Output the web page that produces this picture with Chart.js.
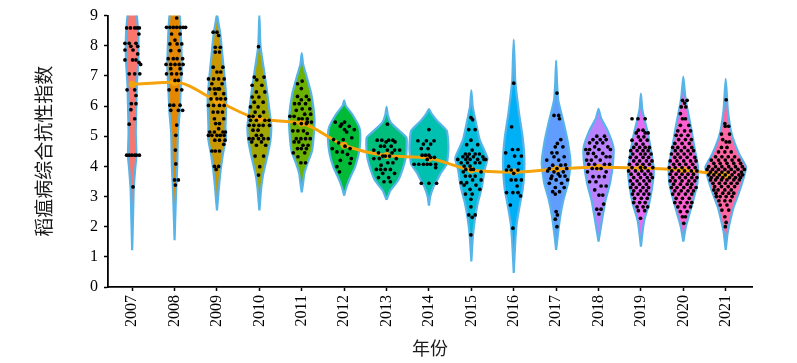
<!DOCTYPE html>
<html>
<head>
<meta charset="utf-8">
<script src="https://cdn.jsdelivr.net/npm/chart.js@4.4.1/dist/chart.umd.min.js"></script>
<style>
  html, body { margin: 0; padding: 0; background: #fff; }
  #wrap { width: 797px; height: 363px; position: relative; }
</style>
</head>
<body>
<div id="wrap"><canvas id="violinChart"></canvas></div>
<script>
        const years = [2007, 2008, 2009, 2010, 2011, 2012, 2013, 2014, 2015, 2016, 2017, 2018, 2019, 2020, 2021];

        // trend line (orange)
        const trendValues = [6.72, 6.79, 6.17, 5.57, 5.43, 4.70, 4.36, 4.27, 3.88, 3.81, 3.91, 3.97, 3.94, 3.88, 3.71];

        const fillColors = ['#F8766D', '#E58700', '#C99800', '#A3A500', '#6BB100', '#00BA38', '#00BF7D', '#00C0AF',
                            '#00BCD8', '#00B0F6', '#619CFF', '#B983FF', '#E76BF3', '#FD61D1', '#FF67A4'];

        // violin outline per year: [index value, half width in years], bottom tip -> top tip
        const violinShapes = [
            [[1.22,0],[2.3,0.02],[3.2,0.035],[3.9,0.07],[4.35,0.1],[5.1,0.085],[5.8,0.095],[6.7,0.11],[7.5,0.145],[8.4,0.145],[9.0,0.11],[9.4,0.08],[9.7,0]],
            [[1.55,0],[2.6,0.023],[3.3,0.04],[4.0,0.063],[5.1,0.08],[5.8,0.12],[6.4,0.14],[7.3,0.17],[8.5,0.145],[9.0,0.12],[9.4,0.08],[9.7,0]],
            [[2.54,0],[2.87,0.02],[3.3,0.045],[3.86,0.085],[4.4,0.14],[4.95,0.21],[5.3,0.2],[6.17,0.22],[6.8,0.19],[7.8,0.12],[8.37,0.08],[8.8,0.03],[9.05,0]],
            [[2.54,0],[2.87,0.02],[3.3,0.045],[3.76,0.093],[4.29,0.18],[4.85,0.26],[5.34,0.28],[5.94,0.23],[6.6,0.17],[7.27,0.1],[8.0,0.025],[9.05,0]],
            [[3.14,0],[3.43,0.03],[3.76,0.06],[4.08,0.13],[4.5,0.24],[5.07,0.285],[5.6,0.3],[6.4,0.225],[7.05,0.1],[7.4,0.03],[7.76,0]],
            [[3.03,0],[3.3,0.05],[3.63,0.14],[3.96,0.25],[4.4,0.34],[4.85,0.38],[5.28,0.36],[5.73,0.19],[6.0,0.04],[6.19,0]],
            [[2.89,0],[3.2,0.09],[3.53,0.27],[3.96,0.39],[4.4,0.465],[4.95,0.47],[5.18,0.3],[5.45,0.1],[5.7,0.03],[5.97,0]],
            [[2.7,0],[3.0,0.03],[3.3,0.1],[3.53,0.19],[3.76,0.27],[4.08,0.42],[4.62,0.46],[5.18,0.42],[5.5,0.2],[5.75,0.06],[5.9,0]],
            [[0.85,0],[1.66,0.035],[2.22,0.08],[2.78,0.15],[3.32,0.25],[3.88,0.31],[4.27,0.38],[4.87,0.2],[5.64,0.08],[6.0,0.03],[6.52,0]],
            [[0.47,0],[1.46,0.035],[2.1,0.07],[2.66,0.135],[3.22,0.21],[3.77,0.245],[4.3,0.25],[4.97,0.21],[5.76,0.125],[6.85,0.035],[7.5,0.02],[8.2,0]],
            [[1.23,0],[1.79,0.045],[2.33,0.095],[2.88,0.17],[3.44,0.28],[4.1,0.34],[4.77,0.28],[5.43,0.18],[6.19,0.05],[6.8,0.02],[7.51,0]],
            [[1.51,0],[1.9,0.045],[2.33,0.095],[2.88,0.165],[3.44,0.27],[4.1,0.34],[4.64,0.35],[5.2,0.21],[5.6,0.06],[5.91,0]],
            [[1.34,0],[1.79,0.035],[2.22,0.08],[2.78,0.195],[3.32,0.265],[3.88,0.305],[4.43,0.25],[5.09,0.165],[5.64,0.07],[5.9,0.03],[6.41,0]],
            [[1.51,0],[2.0,0.06],[2.33,0.125],[2.88,0.235],[3.44,0.33],[3.98,0.345],[4.64,0.26],[5.3,0.18],[6.09,0.07],[6.4,0.04],[6.98,0]],
            [[1.23,0],[1.79,0.045],[2.22,0.11],[2.66,0.19],[3.1,0.305],[3.65,0.43],[3.98,0.48],[4.43,0.31],[5.1,0.135],[5.86,0.05],[6.3,0.03],[6.9,0]]
        ];

        // individual samples per year: [jitter in years, index value]
        const samplePoints = [
            [[-0.13,8.59],[-0.04,8.59],[0.06,8.59],[0.12,8.59],[0.17,8.59],[0.16,8.39],[-0.17,8.08],[-0.07,8.08],[0.09,8.08],[-0.03,7.98],[0.13,7.98],
             [-0.17,7.86],[0.02,7.86],[0.13,7.73],[-0.17,7.53],[0.01,7.53],[0.09,7.53],[0.16,7.45],[0.2,7.38],[-0.07,7.07],[0.06,7.07],[0.18,7.07],
             [-0.12,6.54],[0.06,6.54],[0.09,6.35],[-0.02,6.08],[0.09,6.08],[-0.03,5.88],[0.06,5.58],[-0.07,5.40],
             [-0.13,4.37],[-0.07,4.37],[-0.01,4.37],[0.06,4.37],[0.10,4.37],[0.17,4.37],[0.02,3.32]],
            [[0.05,8.92],[-0.19,8.61],[-0.11,8.61],[-0.03,8.61],[0.05,8.61],[0.13,8.61],[0.2,8.61],[0.26,8.61],[-0.07,8.39],[0.13,8.39],[0.01,8.19],
             [-0.11,8.06],[0.06,8.06],[0.17,8.06],[-0.09,7.84],[0.11,7.84],[-0.15,7.57],[-0.03,7.57],[0.06,7.57],[0.19,7.57],
             [-0.2,7.38],[-0.09,7.38],[0.01,7.38],[0.11,7.38],[0.2,7.38],[-0.09,7.24],[0.13,7.24],[-0.19,7.07],[-0.07,7.07],[0.05,7.07],[0.16,7.07],
             [0.01,6.85],[0.09,6.85],[-0.13,6.54],[0.05,6.54],[0.17,6.54],[-0.11,6.03],[-0.02,6.03],[0.13,6.03],[-0.09,5.86],[0.09,5.86],[0.19,5.86],
             [0.05,5.37],[0.03,5.03],[0.02,4.54],[0.03,4.08],[0.0,3.55],[0.09,3.55],[0.02,3.38]],
            [[-0.09,8.45],[0,8.45],[0.04,8.34],[-0.04,7.95],[0.08,7.95],[-0.04,7.79],[0.06,7.79],[-0.09,7.29],[0.14,7.29],[0,7.13],[0.09,7.13],
             [-0.2,6.9],[-0.08,6.9],[0.04,6.9],[0.17,6.9],[-0.12,6.74],[0.12,6.74],[-0.17,6.57],[-0.06,6.57],[0.02,6.57],[0.06,6.57],
             [-0.04,6.41],[0.16,6.41],[-0.14,6.24],[0,6.24],[0.09,6.24],[0.2,6.24],[-0.2,6.02],[-0.08,6.02],[0.06,6.02],[0.17,6.02],
             [-0.09,5.8],[0.02,5.8],[0.13,5.8],[-0.06,5.58],[0.16,5.58],[-0.03,5.42],[0.06,5.42],[0.04,5.25],
             [-0.17,5.14],[-0.06,5.14],[0.14,5.14],[0.2,5.14],[-0.2,5.03],[-0.12,5.03],[0,5.03],[0.08,5.03],[0.17,5.03],
             [-0.05,4.87],[0.06,4.87],[0.19,4.87],[0.16,4.73],[-0.12,4.51],[-0.04,4.51],[0.06,4.51],[-0.06,4.0],[0.04,4.0],[-0.02,3.9]],
            [[-0.02,7.97],[-0.12,6.96],[0.11,6.96],[-0.06,6.87],[-0.17,6.69],[0.06,6.69],[-0.07,6.47],[0.13,6.47],[-0.17,6.3],[-0.01,6.3],
             [-0.12,6.13],[0.09,6.13],[-0.21,5.97],[-0.03,5.97],[-0.1,5.8],[0.1,5.8],[-0.24,5.66],[-0.15,5.66],[0.01,5.66],
             [-0.21,5.53],[-0.07,5.53],[0.13,5.53],[0.23,5.53],[-0.24,5.36],[-0.13,5.36],[-0.01,5.36],[0.09,5.36],[0.24,5.36],
             [-0.15,5.2],[-0.03,5.2],[-0.07,5.03],[0.05,5.03],[-0.24,4.92],[-0.15,4.92],[-0.02,4.92],[0.1,4.92],[0.21,4.92],
             [-0.18,4.81],[0.05,4.81],[-0.07,4.7],[0.15,4.7],[-0.1,4.34],[0.1,4.34],[0.01,3.99],[-0.02,3.71]],
            [[0.01,6.83],[-0.1,6.74],[-0.01,6.58],[-0.1,6.32],[0.11,6.32],[-0.01,6.21],[0.17,6.21],[-0.17,6.08],[-0.06,6.08],[0.09,6.08],
             [0.01,5.91],[0.19,5.91],[-0.13,5.86],[0.07,5.73],[0.21,5.73],[-0.28,5.66],[-0.18,5.66],[-0.07,5.58],[0.01,5.58],[0.13,5.58],
             [0.13,5.47],[0.23,5.47],[-0.17,5.42],[-0.01,5.42],[0.11,5.42],[-0.21,5.18],[-0.09,5.18],[0.04,5.18],[0.13,5.09],
             [-0.13,4.92],[-0.02,4.92],[0.09,4.92],[0.2,4.92],[-0.18,4.81],[-0.07,4.81],[0.03,4.7],[0.15,4.7],
             [-0.1,4.59],[-0.01,4.59],[0.11,4.59],[-0.2,4.45],[0.07,4.45],[-0.09,4.32],[-0.02,4.12],[0.09,4.12]],
            [[-0.21,5.47],[0.01,5.47],[-0.06,5.4],[-0.09,5.33],[0.12,5.33],[0.01,5.22],[0.24,5.22],[0.06,5.14],[0.18,4.95],
             [-0.25,4.89],[-0.02,4.89],[-0.13,4.78],[0.02,4.67],[-0.28,4.59],[0.14,4.59],[-0.17,4.48],[-0.04,4.48],[0.08,4.4],
             [0.17,4.26],[-0.09,4.2],[0.14,4.1],[-0.17,3.99],[-0.11,3.82]],
            [[0.02,5.4],[-0.22,4.87],[-0.11,4.87],[0.05,4.87],[0.15,4.87],[-0.01,4.81],[0.2,4.81],[-0.14,4.67],[-0.05,4.67],[0.11,4.67],
             [-0.3,4.54],[0.02,4.54],[0.19,4.54],[0.31,4.54],[-0.19,4.45],[0.13,4.45],[-0.09,4.34],[-0.03,4.34],[0.07,4.34],
             [-0.3,4.26],[-0.17,4.26],[0.23,4.26],[0.03,4.12],[0.15,4.12],[-0.13,4.04],[-0.24,3.9],[-0.14,3.9],[-0.03,3.9],[0.09,3.9],
             [-0.09,3.77],[0.19,3.77],[-0.19,3.63],[0.05,3.63],[-0.06,3.49],[0.09,3.49]],
            [[0,5.22],[-0.26,4.85],[-0.06,4.85],[0.12,4.85],[-0.13,4.74],[0.04,4.74],[-0.18,4.59],[-0.02,4.59],[-0.16,4.37],[-0.08,4.37],[0,4.37],
             [0.04,4.3],[0.13,4.3],[-0.04,4.23],[-0.35,4.07],[-0.24,4.07],[-0.13,4.07],[-0.04,4.07],[0.04,4.07],[0.16,4.07],[0.16,3.96],
             [-0.18,3.44],[0,3.44],[0.18,3.44]],
            [[-0.01,5.62],[0.03,5.55],[-0.06,5.22],[0.09,5.22],[-0.01,4.87],[-0.11,4.72],[0.15,4.72],[0.02,4.54],[-0.14,4.41],[-0.05,4.41],[0.09,4.41],[0.19,4.41],
             [-0.2,4.32],[-0.09,4.32],[0.05,4.32],[0.27,4.32],[-0.32,4.23],[-0.13,4.23],[-0.03,4.23],[0.15,4.23],[0.3,4.23],[0.34,4.23],
             [-0.24,4.12],[-0.09,4.12],[0.09,4.12],[0.2,4.12],[-0.17,4.01],[-0.03,4.01],[-0.13,3.9],[-0.01,3.9],[0.05,3.9],[-0.19,3.82],[0.23,3.82],
             [-0.14,3.68],[-0.03,3.68],[0.09,3.68],[0.03,3.55],[0.23,3.55],[-0.24,3.46],[-0.11,3.46],[-0.17,3.38],[0.11,3.38],[-0.03,3.24],[0.2,3.24],
             [-0.14,3.08],[0.02,3.08],[-0.01,2.91],[-0.01,2.66],[-0.06,2.39],[0.09,2.39],[0.02,2.31],[-0.01,1.73]],
            [[0,6.76],[-0.05,5.31],[-0.03,4.56],[0.1,4.56],[-0.19,4.45],[0.02,4.34],[0.18,4.34],[0.12,4.1],[-0.12,4.0],
             [-0.17,3.88],[-0.06,3.88],[0.1,3.88],[0,3.77],[-0.06,3.55],[0.05,3.55],[0.18,3.55],[0.08,3.35],
             [-0.17,3.13],[-0.02,3.13],[0.1,3.13],[0.16,3.02],[-0.08,2.72],[-0.02,1.95]],
            [[0.02,6.43],[-0.05,5.69],[0.06,5.69],[0.08,5.58],[0.11,4.89],[0.03,4.76],[-0.02,4.65],[0.16,4.65],[-0.1,4.45],[0.02,4.45],
             [-0.05,4.32],[0.19,4.32],[-0.22,4.21],[0.06,4.21],[-0.08,4.04],[0.11,4.04],[0.22,4.05],[-0.16,3.93],[0.02,3.93],[0.25,3.93],
             [-0.2,3.85],[-0.05,3.82],[0.17,3.82],[0.05,3.75],[-0.1,3.68],[0.09,3.68],[0.21,3.68],[-0.12,3.6],[0,3.55],[0.27,3.55],
             [-0.16,3.44],[0.13,3.44],[-0.02,3.3],[0.19,3.3],[-0.08,3.16],[0.08,3.16],[-0.02,3.08],[0,2.5],[0.03,2.39],[-0.02,2.25],[0.02,2.0]],
            [[-0.04,5.0],[0.14,5.0],[-0.13,4.89],[0.04,4.89],[0.18,4.89],[-0.21,4.78],[-0.04,4.78],[0.1,4.78],[-0.09,4.65],[0.22,4.65],
             [-0.3,4.56],[-0.21,4.56],[0.01,4.56],[0.28,4.56],[-0.25,4.43],[-0.12,4.43],[0.1,4.43],[-0.06,4.32],[0.18,4.32],[0.27,4.32],
             [-0.28,4.21],[-0.17,4.21],[0.04,4.21],[-0.23,4.07],[-0.09,4.07],[0.14,4.07],[0.26,4.07],[-0.15,3.93],[-0.04,3.93],[0.06,3.93],
             [-0.26,3.82],[0.18,3.82],[-0.13,3.66],[0.01,3.66],[0.14,3.66],[-0.21,3.49],[-0.06,3.49],[0.06,3.35],[0.18,3.35],
             [-0.09,3.22],[0.01,3.05],[0.1,3.05],[0.12,2.75],[-0.04,2.58],[0.06,2.58],[0.01,2.42]],
            [[-0.21,5.58],[-0.07,5.58],[0.1,5.58],[-0.06,5.2],[0.05,5.2],[-0.11,5.11],[0.1,5.11],[0.17,5.11],[-0.06,4.98],[0.07,4.98],
             [-0.21,4.87],[-0.01,4.87],[0.15,4.87],[-0.11,4.74],[0.05,4.74],[-0.17,4.63],[-0.03,4.63],[0.1,4.63],[0.2,4.63],
             [-0.24,4.52],[-0.09,4.52],[0.05,4.52],[0.17,4.52],[-0.19,4.41],[-0.01,4.41],[0.1,4.41],[0.24,4.41],
             [-0.25,4.3],[-0.11,4.3],[0.05,4.3],[0.18,4.3],[-0.17,4.18],[-0.03,4.18],[0.13,4.18],[0.26,4.18],
             [-0.27,4.07],[-0.09,4.07],[0.05,4.07],[0.2,4.07],[-0.21,3.96],[-0.01,3.96],[0.1,3.96],[0.28,3.96],
             [-0.29,3.85],[-0.13,3.85],[0.02,3.85],[0.17,3.85],[-0.23,3.74],[-0.06,3.74],[0.09,3.74],[0.23,3.74],
             [-0.17,3.63],[-0.01,3.63],[0.15,3.63],[0.27,3.63],[-0.25,3.52],[-0.09,3.52],[0.07,3.52],[0.2,3.52],
             [-0.19,3.41],[-0.03,3.41],[0.13,3.41],[-0.24,3.3],[-0.11,3.3],[0.05,3.3],[0.18,3.3],[-0.17,3.19],[-0.01,3.19],[0.13,3.19],
             [-0.2,3.08],[-0.07,3.08],[0.07,3.08],[0.19,3.08],[-0.15,2.94],[0.01,2.94],[0.15,2.94],[-0.17,2.8],[-0.03,2.8],[0.1,2.8],
             [-0.09,2.66],[0.05,2.66],[0.16,2.66],[-0.06,2.53],[0.09,2.53],[-0.01,2.28]],
            [[-0.02,6.19],[0.09,6.19],[0.03,6.1],[-0.05,5.97],[0.06,5.97],[-0.07,5.75],[-0.02,5.58],[0.05,5.58],[-0.07,5.36],[0.13,5.36],
             [-0.13,5.18],[0.03,5.18],[0.17,5.18],[-0.17,5.03],[-0.05,5.03],[0.11,5.03],[-0.11,4.89],[0.05,4.89],[0.19,4.89],
             [-0.2,4.76],[-0.03,4.76],[0.14,4.76],[-0.25,4.63],[-0.13,4.63],[0.03,4.63],[0.2,4.63],[-0.19,4.52],[-0.05,4.52],[0.11,4.52],[0.24,4.52],
             [-0.28,4.41],[-0.13,4.41],[0.02,4.41],[0.17,4.41],[-0.2,4.3],[-0.07,4.3],[0.09,4.3],[0.27,4.3],
             [-0.31,4.18],[-0.15,4.18],[0.01,4.18],[0.17,4.18],[0.3,4.18],[-0.23,4.07],[-0.09,4.07],[0.06,4.07],[0.22,4.07],
             [-0.33,3.96],[-0.19,3.96],[-0.03,3.96],[0.13,3.96],[0.28,3.96],[-0.27,3.85],[-0.11,3.85],[0.03,3.85],[0.19,3.85],[0.32,3.85],
             [-0.31,3.74],[-0.17,3.74],[-0.03,3.74],[0.11,3.74],[0.24,3.74],[-0.25,3.63],[-0.09,3.63],[0.05,3.63],[0.2,3.63],[0.32,3.63],
             [-0.31,3.52],[-0.19,3.52],[-0.03,3.52],[0.13,3.52],[0.27,3.52],[-0.23,3.41],[-0.07,3.41],[0.09,3.41],[0.2,3.41],
             [-0.28,3.3],[-0.15,3.3],[0.01,3.3],[0.17,3.3],[0.3,3.3],[-0.2,3.19],[-0.05,3.19],[0.11,3.19],[0.24,3.19],
             [-0.25,3.08],[-0.11,3.08],[0.05,3.08],[0.2,3.08],[-0.17,2.94],[-0.02,2.94],[0.14,2.94],[-0.2,2.8],[-0.07,2.8],[0.09,2.8],[0.2,2.8],
             [-0.13,2.66],[0.03,2.66],[0.17,2.66],[-0.07,2.5],[0.09,2.5],[-0.02,2.33],[0.05,2.33],[0.01,2.11]],
            [[0.01,6.21],[-0.02,5.42],[-0.01,5.33],[0.07,5.33],[-0.1,5.07],[0.09,5.07],[-0.07,4.89],[0.01,4.81],[0.09,4.81],
             [-0.1,4.63],[0.03,4.63],[-0.17,4.48],[-0.02,4.48],[0.13,4.48],[-0.24,4.32],[-0.09,4.32],[0.06,4.32],[0.21,4.32],
             [-0.34,4.21],[-0.17,4.21],[-0.01,4.21],[0.15,4.21],[0.31,4.21],[-0.28,4.1],[-0.13,4.1],[0.03,4.1],[0.19,4.1],[0.35,4.1],
             [-0.4,3.99],[-0.24,3.99],[-0.09,3.99],[0.07,3.99],[0.23,3.99],[0.39,3.99],
             [-0.44,3.9],[-0.31,3.9],[-0.17,3.9],[-0.02,3.9],[0.13,3.9],[0.29,3.9],[0.44,3.9],
             [-0.36,3.81],[-0.23,3.81],[-0.09,3.81],[0.06,3.81],[0.21,3.81],[0.37,3.81],
             [-0.4,3.72],[-0.28,3.72],[-0.15,3.72],[-0.01,3.72],[0.15,3.72],[0.31,3.72],[0.4,3.72],
             [-0.34,3.63],[-0.2,3.63],[-0.07,3.63],[0.09,3.63],[0.23,3.63],[0.35,3.63],[-0.36,3.55],[-0.24,3.55],[-0.1,3.55],[0.03,3.55],[0.19,3.55],[0.32,3.55],
             [-0.3,3.44],[-0.15,3.44],[-0.01,3.44],[0.13,3.44],[0.27,3.44],[-0.26,3.33],[-0.1,3.33],[0.06,3.33],[0.21,3.33],
             [-0.28,3.22],[-0.18,3.22],[-0.02,3.22],[0.13,3.22],[-0.23,3.11],[-0.07,3.11],[0.07,3.11],[0.19,3.11],
             [-0.22,3.0],[-0.13,3.0],[0.01,3.0],[0.15,3.0],[-0.16,2.86],[-0.02,2.86],[0.11,2.86],[-0.13,2.72],[0.03,2.72],
             [-0.09,2.55],[0.07,2.55],[-0.02,2.33],[0.01,2.14],[-0.01,2.0]]
        ];

        const yTitle = '稻瘟病综合抗性指数';
        const xTitle = '年份';

        function violinPath(year, shape) {
            const right = shape.map(([y, w]) => ({x: year + w, y: y}));
            const left = shape.slice(0, -1).reverse().map(([y, w]) => ({x: year - w, y: y}));
            return right.concat(left);
        }

        const datasets = [];

        // violins at the back (higher order = drawn first)
        years.forEach((year, i) => {
            datasets.push({
                data: violinPath(year, violinShapes[i]),
                backgroundColor: fillColors[i],
                borderColor: '#56B4E9',
                borderWidth: 2.2,
                fill: 'shape',
                tension: 0.15,
                pointRadius: 0,
                showLine: true,
                order: 3
            });
        });

        datasets.push({
            data: years.map((year, i) => ({x: year, y: trendValues[i]})),
            borderColor: '#F5A30B',
            backgroundColor: '#F5A30B',
            borderWidth: 3,
            pointRadius: 2,
            fill: false,
            cubicInterpolationMode: 'monotone',
            showLine: true,
            order: 2
        });

        const dots = [];
        years.forEach((year, i) => {
            samplePoints[i].forEach(([dx, y]) => dots.push({x: year + dx, y: y}));
        });

        datasets.push({
            data: dots,
            showLine: false,
            pointRadius: 1.85,
            pointBackgroundColor: '#000',
            pointBorderWidth: 0,
            fill: false,
            order: 1
        });

        const serif = "'Liberation Serif', 'Times New Roman', serif";
        const cjk = "'Noto Sans CJK SC', sans-serif";

        new Chart(document.getElementById('violinChart'), {
            type: 'line',
            data: { datasets: datasets },
            options: {
                responsive: true,
                maintainAspectRatio: false,
                animation: false,
                events: [],
                layout: { padding: { left: 0, top: 15, right: 45, bottom: 0 } },
                plugins: {
                    legend: { display: false },
                    tooltip: { enabled: false }
                },
                scales: {
                    x: {
                        type: 'linear',
                        min: 2006.43,
                        max: 2021.62,
                        afterBuildTicks: (scale) => { scale.ticks = years.map(v => ({value: v})); },
                        afterFit: (scale) => { scale.height = 76; },
                        ticks: {
                            autoSkip: false,
                            minRotation: 90,
                            maxRotation: 90,
                            padding: 4,
                            color: '#000',
                            font: { family: serif, size: 16 },
                            callback: (v) => String(v)
                        },
                        grid: { drawOnChartArea: false, drawTicks: true, tickLength: 4, tickColor: '#000', tickWidth: 1.5 },
                        border: { display: true, color: '#000', width: 1.8 },
                        title: {
                            display: true,
                            text: xTitle,
                            color: '#1a1a1a',
                            font: { family: cjk, size: 18 },
                            padding: { top: 0, bottom: 4 }
                        }
                    },
                    y: {
                        type: 'linear',
                        min: 0,
                        max: 9,
                        afterFit: (scale) => { scale.width = 108; },
                        ticks: {
                            stepSize: 1,
                            padding: 6,
                            color: '#000',
                            font: { family: serif, size: 16 }
                        },
                        grid: { drawOnChartArea: false, drawTicks: true, tickLength: 4, tickColor: '#000', tickWidth: 1.5 },
                        border: { display: true, color: '#000', width: 1.8 },
                        title: {
                            display: true,
                            text: yTitle,
                            color: '#1a1a1a',
                            font: { family: cjk, size: 19 },
                            padding: { top: 32, bottom: 0 }
                        }
                    }
                }
            }
        });
</script>
</body>
</html>
